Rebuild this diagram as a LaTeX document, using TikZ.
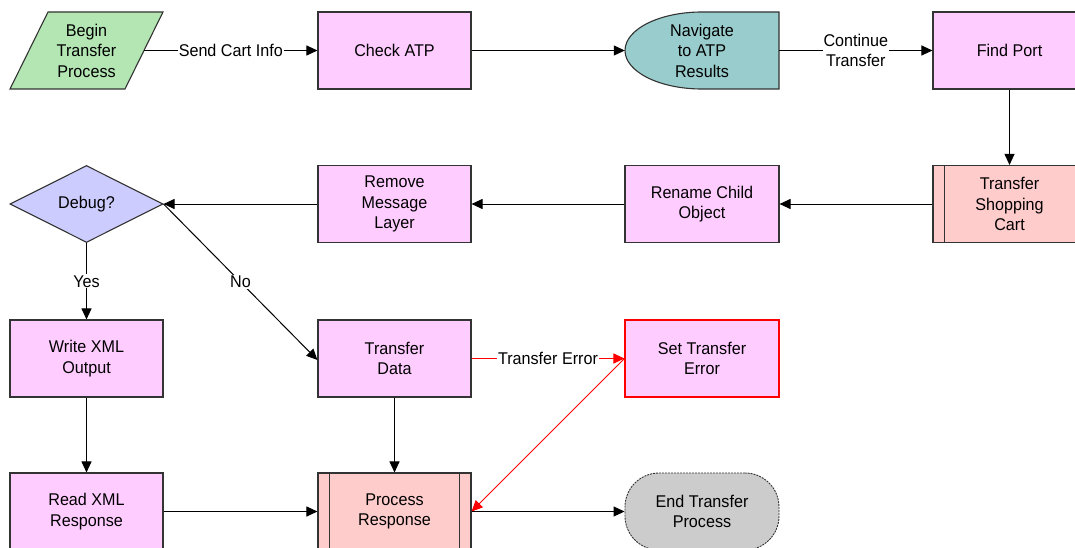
\documentclass[tikz,border=0pt]{standalone}
\usepackage{fontspec}
\setmainfont[FakeStretch=0.95]{Liberation Sans}
\usetikzlibrary{arrows.meta,shapes.geometric}
\definecolor{procpink}{HTML}{FFCCFF}
\definecolor{subpink}{HTML}{FFCCCC}
\definecolor{startgreen}{HTML}{B3E6B3}
\definecolor{navteal}{HTML}{99CCCC}
\definecolor{decblue}{HTML}{CCCCFF}
\definecolor{endgray}{HTML}{CCCCCC}
\definecolor{edgegray}{HTML}{333333}
\begin{document}
\begin{tikzpicture}[x=1pt,y=-1pt,
  txt/.style={align=center,font=\fontsize{17}{20.5}\selectfont},
  box/.style={txt,draw=edgegray,line width=1.1pt,minimum width=153pt,minimum height=77pt,inner sep=0pt},
  proc/.style={box,fill=procpink},
  subprocL/.style={box,fill=subpink,path picture={
      \draw[edgegray,line width=1.1pt] ([xshift=11.5pt]path picture bounding box.north west) -- ([xshift=11.5pt]path picture bounding box.south west);}},
  subproc/.style={subprocL,path picture={
      \draw[edgegray,line width=1.1pt] ([xshift=11.5pt]path picture bounding box.north west) -- ([xshift=11.5pt]path picture bounding box.south west);
      \draw[edgegray,line width=1.1pt] ([xshift=-11.5pt]path picture bounding box.north east) -- ([xshift=-11.5pt]path picture bounding box.south east);}},
  conn/.style={draw=black,line width=1pt,-{Triangle[length=11pt,width=10pt]}},
  redconn/.style={draw=red,line width=1pt,-{Triangle[length=11pt,width=10pt]}},
  lbl/.style={txt,fill=white,inner sep=1pt}
]
\clip (0,0) rectangle (1075,548);
\fill[white] (0,0) rectangle (1075,548);

% Begin parallelogram
\filldraw[fill=startgreen,draw=edgegray,line width=1.1pt] (48,12) -- (163,12) -- (125,89) -- (10,89) -- cycle;
\node[txt,minimum width=115pt,minimum height=77pt,inner sep=0pt] (begin) at (86.5,50.5) {Begin\\Transfer\\Process};

\node[proc] (check) at (394.5,50.5) {Check ATP};

% Navigate shape
\filldraw[fill=navteal,draw=edgegray,line width=1.1pt] (779,12) -- (702,12) arc[start angle=270,end angle=90,x radius=77,y radius=38.5] -- (779,89) -- cycle;
\node[txt,minimum width=154pt,minimum height=77pt,inner sep=0pt] (nav) at (702,50.5) {Navigate\\to ATP\\Results};

\node[proc] (find) at (1009.5,50.5) {Find Port};

\node[subprocL] (tsc) at (1009.5,204) {Transfer\\Shopping\\Cart};
\node[proc,minimum width=154pt] (rename) at (702,204) {Rename Child\\Object};
\node[proc] (remove) at (394.5,204) {Remove\\Message\\Layer};
\node[txt,shape=diamond,draw=edgegray,fill=decblue,line width=1.1pt,minimum width=153pt,minimum height=77pt,inner sep=0pt] (debug) at (86.5,204) {Debug?};

\node[proc] (write) at (86.5,358.5) {Write XML\\Output};
\node[proc] (tdata) at (394.5,358.5) {Transfer\\Data};
\node[proc,draw=red,minimum width=154pt] (seterr) at (702,358.5) {Set Transfer\\Error};

\node[proc] (read) at (86.5,511.5) {Read XML\\Response};
\node[subproc] (presp) at (394.5,511.5) {Process\\Response};
\node[box,fill=endgray,line width=0.9pt,dash pattern=on 2pt off 1pt,rounded corners=34pt,minimum width=154pt] (endp) at (702,511.5) {End Transfer\\Process};

% connectors
\draw[conn] (begin.east) -- node[lbl] {Send Cart Info} (check.west);
\draw[conn] (check.east) -- (nav.west);
\draw[conn] (nav.east) -- node[lbl] {Continue\\Transfer} (find.west);
\draw[conn] (find.south) -- (tsc.north);
\draw[conn] (tsc.west) -- (rename.east);
\draw[conn] (rename.west) -- (remove.east);
\draw[conn] (remove.west) -- (debug.east);
\draw[conn] (debug.south) -- node[lbl] {Yes} (write.north);
\draw[conn] (debug.east) -- node[lbl] {No} ([yshift=-1.5pt]tdata.west);
\draw[redconn] (tdata.east) -- node[lbl] {Transfer Error} (seterr.west);
\draw[redconn,line width=0.8pt] (seterr.west) -- (presp.east);
\draw[conn] (tdata.south) -- (presp.north);
\draw[conn] (write.south) -- (read.north);
\draw[conn] (read.east) -- (presp.west);
\draw[conn] (presp.east) -- (endp.west);
\end{tikzpicture}
\end{document}
